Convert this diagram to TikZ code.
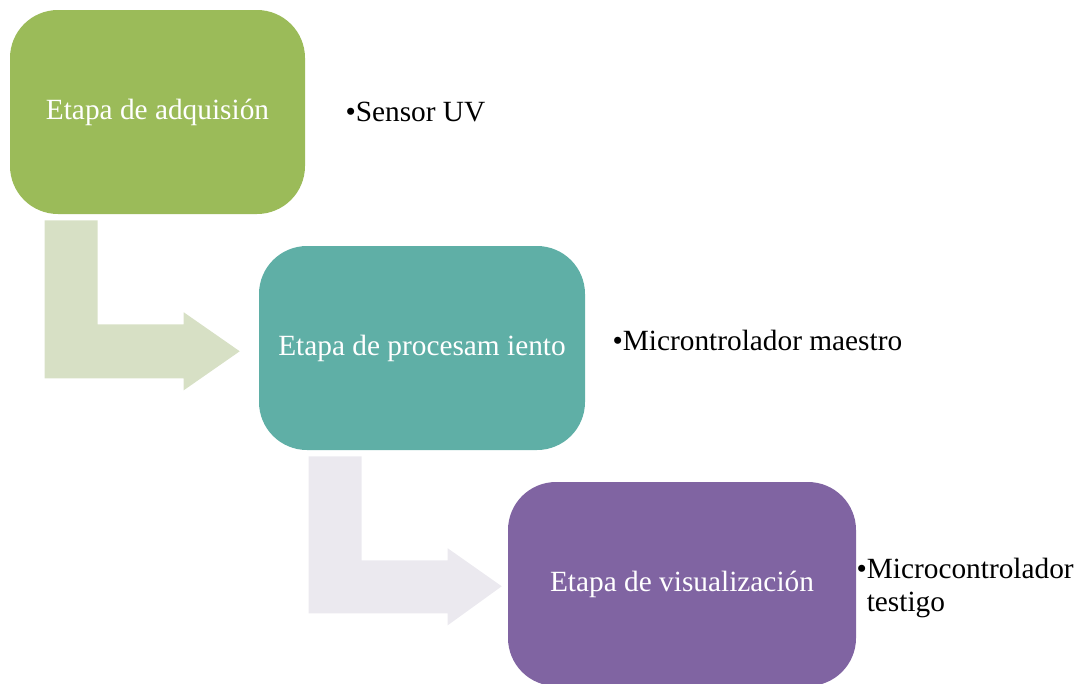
\documentclass[tikz,border=0pt]{standalone}
\usepackage{fontspec}
\setmainfont{Liberation Serif}
\usetikzlibrary{positioning}
\definecolor{verde}{HTML}{9BBB59}
\definecolor{turquesa}{HTML}{5FAFA6}
\definecolor{morado}{HTML}{8064A2}
\definecolor{verdeclaro}{HTML}{D7E0C5}
\definecolor{moradoclaro}{HTML}{EBE9EF}
\tikzset{
    every node/.style={align=left,font=\fontsize{22}{21}\selectfont},
    etapa/.style={rectangle,rounded corners=36,text=white,inner sep=0pt,
        minimum height=204*0.75pt},
    detalle/.style={anchor=west,inner sep=0pt,text=black},
}

\begin{document}
\begin{tikzpicture}[x=0.75pt,y=-0.75pt]
        \useasboundingbox (0,0) rectangle (1088,683);

        \node[etapa, fill=verde, minimum width=295*0.75pt] (adq) at (157.5, 112) {Etapa de adquisión};
        \node[etapa, fill=turquesa, minimum width=326*0.75pt] (proc) at (422, 348) {Etapa de procesam iento};
        \node[etapa, fill=morado, minimum width=348*0.75pt] (vis) at (682, 584) {Etapa de visualización};

        \node[detalle, right=40*0.75pt of adq] (sensor) {\textbullet Sensor UV};
        \node[detalle, right=27*0.75pt of proc, yshift=6] (maestro) {\textbullet Microntrolador maestro};
        \node[detalle, right=0pt of vis, yshift=-3, font=\fontsize{22}{24.5}\selectfont] (testigo)
            {\textbullet Microcontrolador\\\phantom{\textbullet}testigo};

        \coordinate (ini1) at ([shift={(35,6)}]adq.south west);
        \coordinate (ini2) at ([shift={(50,6)}]proc.south west);

        \fill[verdeclaro] (ini1) -- ++(53,0) -- ++(0,104) -- ++(86,0) -- ++(0,-12)
            -- ++(56,39) -- ++(-56,39) -- ++(0,-12) -- ++(-139,0) -- cycle;
        \fill[moradoclaro] (ini2) -- ++(53,0) -- ++(0,104) -- ++(86,0) -- ++(0,-12)
            -- ++(54,38) -- ++(-54,39) -- ++(0,-12) -- ++(-139,0) -- cycle;
    \end{tikzpicture}
\end{document}
